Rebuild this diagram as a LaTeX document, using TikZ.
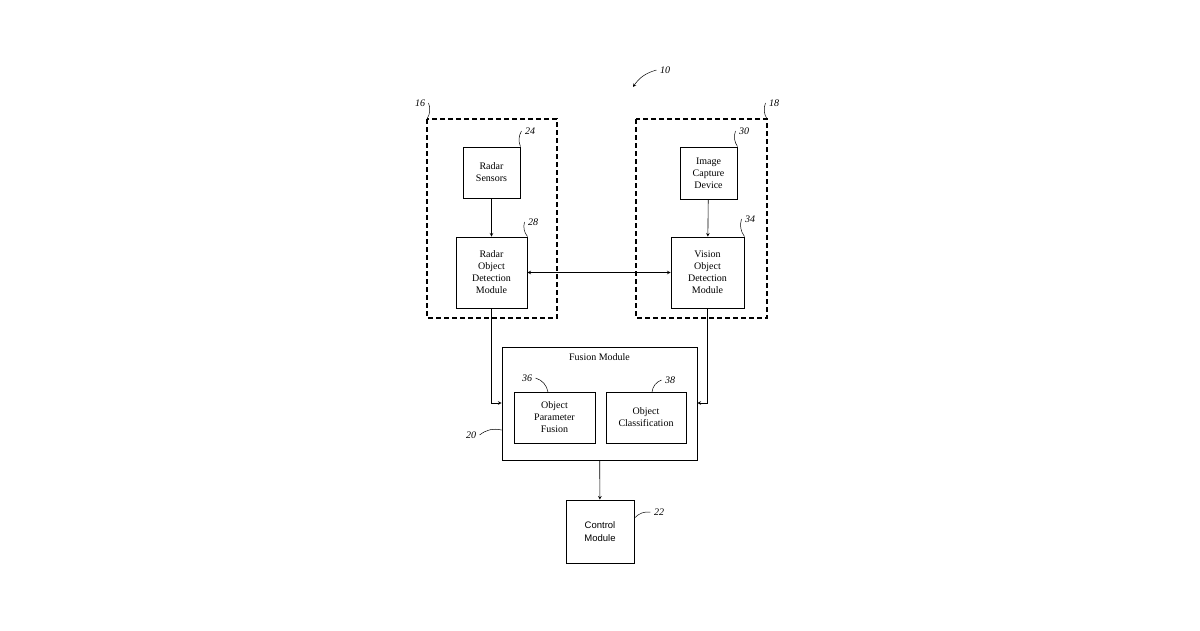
\documentclass[tikz,border=0pt]{standalone}
\usepackage{fontspec}
\setmainfont{Liberation Serif}
\newfontfamily\ctlfont{Liberation Sans}
\usetikzlibrary{positioning}

\tikzset{
  blk/.style={draw, line width=0.9pt, align=center, font=\fontsize{10}{12}\selectfont, inner sep=0pt},
  grp/.style={draw, dashed, line width=1.3pt, dash pattern=on 5pt off 3pt},
  arr/.style={->, >=stealth, line width=0.6pt},
  refnum/.style={font=\itshape\fontsize{10}{12}\selectfont},
  lead/.style={line width=0.5pt}
}

\begin{document}
\begin{tikzpicture}[x=1pt,y=-1pt]
	\useasboundingbox (0,0) rectangle (1200,630);
	% groups
	\draw[grp] (427,119) rectangle (557,318);
	\draw[grp] (636,119) rectangle (767,318);
	\coordinate (g1) at (427,119);
	\coordinate (g2) at (767,119);
	%
	\node[blk, minimum width=57pt, minimum height=51pt] (radar) at (491.5,172.5) {Radar\\Sensors};
	\node[blk, minimum width=71pt, minimum height=71pt] (rodm) at (491.5,272.5) {Radar\\Object\\Detection\\Module};
	\node[blk, minimum width=57pt, minimum height=52pt] (cam) at (708.5,173) {Image\\Capture\\Device};
	\node[blk, minimum width=73pt, minimum height=71pt] (vodm) at (707.5,272.5) {Vision\\Object\\Detection\\Module};
	%
	\node[blk, minimum width=195pt, minimum height=113pt] (fusion) at (599.5,403.5) {};
	\node[font=\fontsize{10}{12}\selectfont] (fuslbl) at (599.5,357) {Fusion Module};
	\node[blk, minimum width=81pt, minimum height=51pt] (opf) at (554.5,417.5) {Object\\Parameter\\Fusion};
	\node[blk, minimum width=80pt, minimum height=51pt] (ocl) at (646,417.5) {Object\\Classification};
	\node[blk, minimum width=68pt, minimum height=63pt, font=\ctlfont\fontsize{9.5}{13}\selectfont] (ctrl) at (600,531.5) {Control\\Module};
	%
	\draw[arr] (radar) -- (rodm);
	\draw[arr] (cam) -- (vodm);
	\draw[arr, <->] (rodm) -- (vodm);
	\draw[arr] (rodm.south) |- (fusion.west |- 0,403);
	\draw[arr] (vodm.south) |- (fusion.east |- 0,403);
	\draw[arr] (fusion) -- (ctrl);
	% reference numerals
	\node[refnum] (n10) at (665,70) {10};
	\coordinate (t10) at (633,87);
	\draw[lead, ->, >=stealth] (n10.west) to[bend right=20] (t10);
	\node[refnum] (n16) at (420,103) {16};
	\draw[lead] (n16.east) to[bend left=25] (g1);
	\node[refnum] (n18) at (774,103) {18};
	\draw[lead] (n18.west) to[bend right=25] (g2);
	\node[refnum] (n24) at (530,131) {24};
	\draw[lead] (n24.west) to[bend right=25] (radar.north east);
	\node[refnum] (n28) at (533,222) {28};
	\draw[lead] (n28.west) to[bend right=25] (rodm.north east);
	\node[refnum] (n30) at (744,131) {30};
	\draw[lead] (n30.west) to[bend right=25] (cam.north east);
	\node[refnum] (n34) at (750,219) {34};
	\draw[lead] (n34.west) to[bend right=25] (vodm.north east);
	\node[refnum] (n36) at (527,378) {36};
	\draw[lead] (n36.east) to[bend left=30] (548,392);
	\node[refnum] (n38) at (670,380) {38};
	\draw[lead] (n38.west) to[bend right=30] (652,392);
	\node[refnum] (n20) at (471,435) {20};
	\draw[lead] (n20.east) to[bend left=25] (fusion.west |- 0,430);
	\node[refnum] (n22) at (659,512) {22};
	\draw[lead] (n22.west) to[bend right=25] (ctrl.east |- 0,518);
\end{tikzpicture}
\end{document}
